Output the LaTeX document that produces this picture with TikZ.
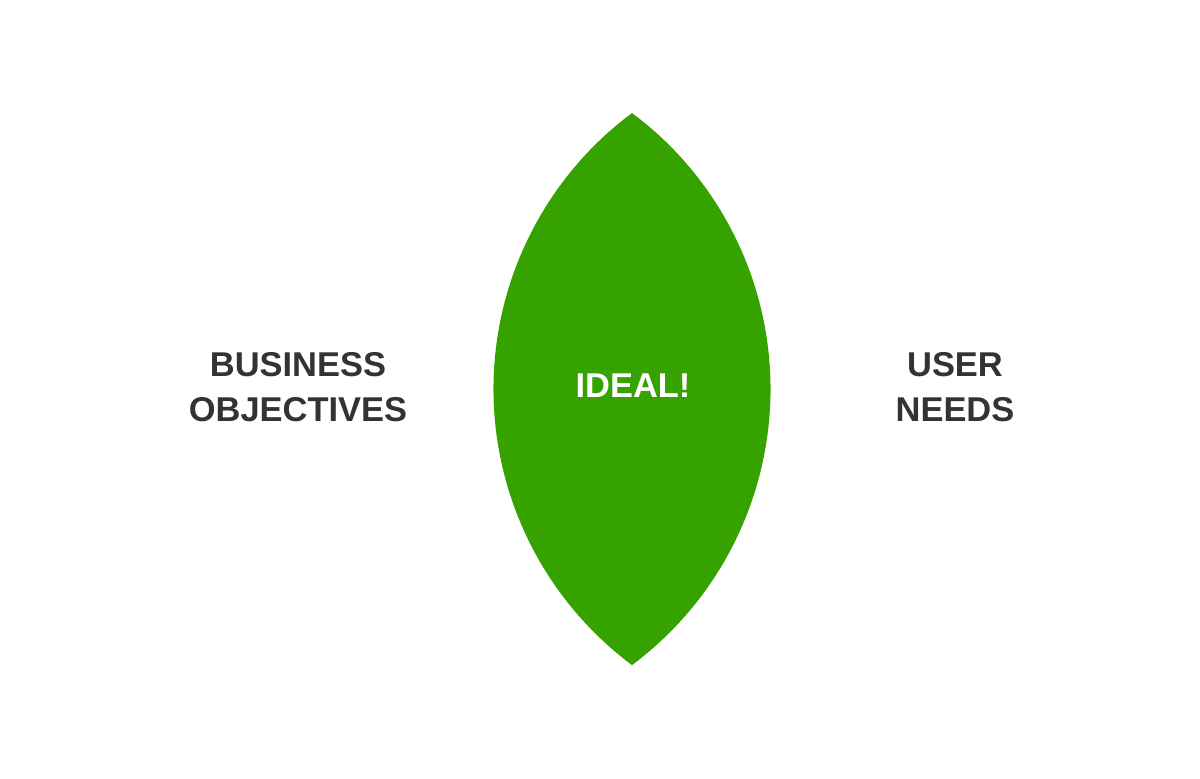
\documentclass[tikz,border=0pt]{standalone}
\usepackage{fontspec}
\setmainfont{Liberation Sans}
\definecolor{leafgreen}{HTML}{36A200}
\definecolor{darktext}{HTML}{333333}

\begin{document}
\begin{tikzpicture}[
    label/.style={font=\bfseries\fontsize{9.8}{12.8}\selectfont, text=darktext, align=center},
]
\useasboundingbox (0,0) rectangle (12,7.78);

    % Lens - intersection of both circles
\fill[leafgreen] (6.32,6.65) arc[start angle=126.7, end angle=233.3, radius=3.443]
    arc[start angle=-53.3, end angle=53.3, radius=3.443] -- cycle;
\node (ideal) [font=\bfseries\fontsize{9.8}{12.8}\selectfont, text=white] at (6.33,3.92) {IDEAL!};

    % Left and right
\node (business) [label] at (2.98,3.91) {BUSINESS\\OBJECTIVES};
\node (user) [label] at (9.55,3.91) {USER\\NEEDS};

\end{tikzpicture}
\end{document}
